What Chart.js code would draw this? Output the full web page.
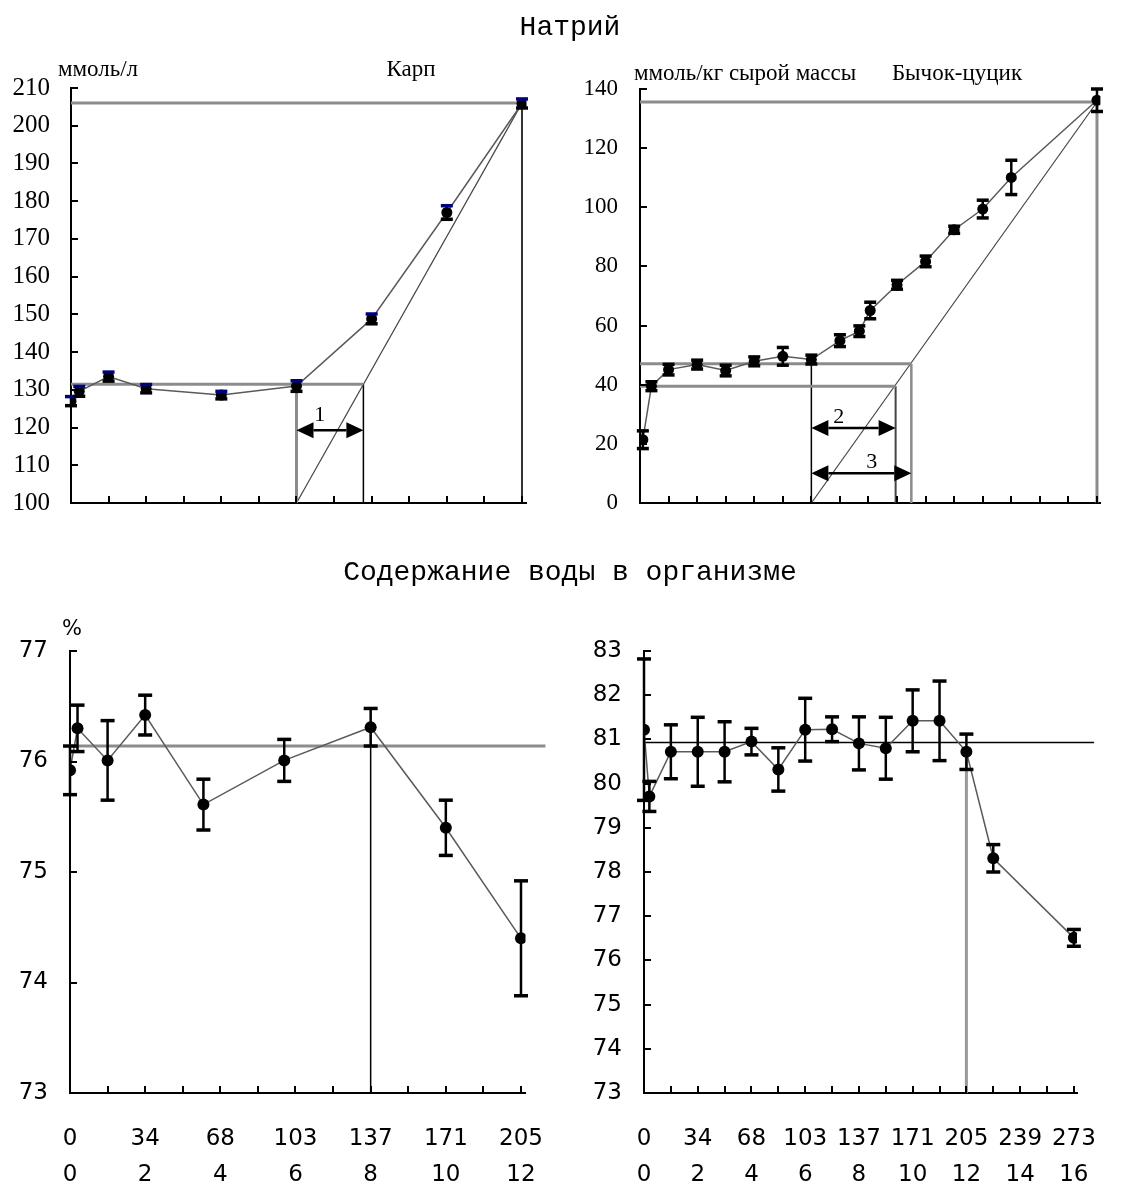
<!DOCTYPE html>
<html lang="ru">
<head>
<meta charset="utf-8">
<title>Натрий и содержание воды в организме</title>
<script src="https://cdn.jsdelivr.net/npm/chart.js@4.4.1/dist/chart.umd.min.js"></script>
<style>
  html, body { margin: 0; padding: 0; background: #fff; }
  #page { position: relative; width: 1124px; height: 1185px; overflow: hidden; }
  #page canvas { position: absolute; left: 0; top: 0; }
  .txt { position: absolute; white-space: nowrap; color: #000; transform: translate(-50%, -50%); line-height: 1; }
  .serif { font-family: "Liberation Serif", serif; }
  .mono { font-family: "Liberation Mono", monospace; }
  .sans { font-family: "DejaVu Sans", sans-serif; }
</style>
</head>
<body>
<div id="page">
  <canvas id="naCarp" width="1124" height="1185"></canvas>
  <canvas id="naGoby" width="1124" height="1185"></canvas>
  <canvas id="waterCarp" width="1124" height="1185"></canvas>
  <canvas id="waterGoby" width="1124" height="1185"></canvas>

  <div class="txt mono" style="left:570px;top:28px;font-size:28px">Натрий</div>
  <div class="txt mono" style="left:570px;top:573px;font-size:28px">Содержание воды в организме</div>
  <div class="txt serif" style="left:98px;top:68px;font-size:23px">ммоль/л</div>
  <div class="txt serif" style="left:411px;top:68px;font-size:23px">Карп</div>
  <div class="txt serif" style="left:745px;top:72px;font-size:23px">ммоль/кг сырой массы</div>
  <div class="txt serif" style="left:957px;top:72px;font-size:23px">Бычок-цуцик</div>
  <div class="txt sans" style="left:72px;top:628px;font-size:21px">%</div>
</div>

<script>
// x is measured in steps of the lower tick row; the upper row gives the same points in days
const dayLabels = ["0", "34", "68", "103", "137", "171", "205", "239", "273"];
const stepLabels = ["0", "2", "4", "6", "8", "10", "12", "14", "16"];

// Натрий, карп (ммоль/л)
const carpNaX = [0, 0.22, 1, 2, 4, 6, 8, 10, 12];
const carpNaY = [127.0, 129.6, 133.5, 130.3, 128.6, 131.0, 148.8, 177.0, 205.9];
const carpNaErr = [1.2, 1.3, 1.2, 1.1, 1.0, 1.4, 1.3, 1.8, 1.2];
const carpNaTop = 206;
const carpNaPlateau = 131.5;
const carpNaRiseX = 6;
const carpNaCrossX = 7.78;
const carpNaEndX = 12;

// Натрий, бычок-цуцик (ммоль/кг сырой массы)
const gobyNaX = [0.1, 0.4, 1, 2, 3, 4, 5, 6, 7, 7.68, 8.06, 9, 10, 11, 12, 13, 16];
const gobyNaY = [21.4, 39.5, 45.1, 46.8, 44.8, 47.9, 49.6, 48.5, 54.9, 58.1, 65.1, 73.8, 81.7, 92.4, 99.4, 110.1, 136.2];
const gobyNaErr = [3, 1.5, 1.8, 1.5, 1.8, 1.5, 3, 1.5, 2, 1.8, 2.8, 1.5, 1.8, 1.2, 3, 5.8, 3.8];
const gobyNaTop = 135.6;
const gobyNaLevel2 = 39.5;
const gobyNaLevel3 = 47.1;
const gobyNaRiseX = 6;
const gobyNaCross2X = 8.95;
const gobyNaCross3X = 9.5;
const gobyNaEndX = 16;

// Содержание воды, карп (%)
const carpWaterX = [0, 0.2, 1, 2, 3.55, 5.7, 8, 10, 12];
const carpWaterY = [75.92, 76.30, 76.01, 76.42, 75.61, 76.01, 76.31, 75.40, 74.40];
const carpWaterErr = [0.22, 0.21, 0.36, 0.18, 0.23, 0.19, 0.17, 0.25, 0.52];
const carpWaterMean = 76.14;
const carpWaterMarkX = 8;

// Содержание воды, бычок-цуцик (%)
const gobyWaterX = [0, 0.2, 1, 2, 3, 4, 5, 6, 7, 8, 9, 10, 11, 12, 13, 16];
const gobyWaterY = [81.22, 79.71, 80.72, 80.72, 80.72, 80.95, 80.32, 81.22, 81.23, 80.91, 80.80, 81.42, 81.42, 80.72, 78.31, 76.51];
const gobyWaterErr = [1.6, 0.34, 0.61, 0.78, 0.68, 0.3, 0.49, 0.71, 0.28, 0.6, 0.7, 0.7, 0.9, 0.4, 0.31, 0.19];
const gobyWaterMean = 80.93;
const gobyWaterMarkX = 12;

const GRAY = "#8c8c8c";

function seg(x0, y0, x1, y1, color, width) {
    return {
        data: [{ x: x0, y: y0 }, { x: x1, y: y1 }],
        showLine: true,
        pointRadius: 0,
        borderColor: color,
        borderWidth: width,
        clip: false
    };
}

function series(xs, ys, errs, radius, capHalf, topCapColor) {
    return {
        data: xs.map((x, i) => ({ x: x, y: ys[i] })),
        errors: errs,
        capHalf: capHalf,
        topCapColor: topCapColor,
        showLine: true,
        borderColor: "#5a5a5a",
        borderWidth: 1.5,
        pointRadius: radius,
        pointBackgroundColor: "#000",
        pointBorderColor: "#000",
        pointBorderWidth: 0
    };
}

const errorBars = {
    id: "errorBars",
    afterDatasetsDraw(chart) {
        const { ctx, scales: { x, y } } = chart;
        chart.data.datasets.forEach(ds => {
            if (!ds.errors) return;
            ctx.save();
            ds.data.forEach((p, i) => {
                const px = x.getPixelForValue(p.x);
                const top = y.getPixelForValue(p.y + ds.errors[i]);
                const bot = y.getPixelForValue(p.y - ds.errors[i]);
                ctx.strokeStyle = "#000";
                ctx.lineWidth = 2.5;
                ctx.beginPath(); ctx.moveTo(px, top); ctx.lineTo(px, bot); ctx.stroke();
                ctx.lineWidth = 3.5;
                ctx.beginPath(); ctx.moveTo(px - ds.capHalf, bot); ctx.lineTo(px + ds.capHalf, bot); ctx.stroke();
                ctx.strokeStyle = ds.topCapColor || "#000";
                ctx.beginPath(); ctx.moveTo(px - ds.capHalf, top); ctx.lineTo(px + ds.capHalf, top); ctx.stroke();
            });
            ctx.restore();
        });
    }
};

// tick marks in the reference point into the plot
const innerTicks = {
    id: "innerTicks",
    afterDraw(chart) {
        const { ctx, chartArea, scales: { x, y } } = chart;
        ctx.save();
        ctx.strokeStyle = "#000";
        ctx.lineWidth = 2;
        x.ticks.forEach(t => {
            const px = Math.round(x.getPixelForValue(t.value));
            ctx.beginPath(); ctx.moveTo(px, chartArea.bottom); ctx.lineTo(px, chartArea.bottom - 7); ctx.stroke();
        });
        y.ticks.forEach(t => {
            const py = Math.round(y.getPixelForValue(t.value));
            ctx.beginPath(); ctx.moveTo(chartArea.left, py); ctx.lineTo(chartArea.left + 7, py); ctx.stroke();
        });
        ctx.restore();
    }
};

function arrows(items) {
    return {
        id: "arrows",
        afterDatasetsDraw(chart) {
            const { ctx, scales: { x, y } } = chart;
            const head = 17, half = 8;
            ctx.save();
            ctx.strokeStyle = "#000";
            ctx.fillStyle = "#000";
            ctx.lineWidth = 2.5;
            items.forEach(a => {
                const x0 = x.getPixelForValue(a.x0);
                const x1 = x.getPixelForValue(a.x1);
                const py = y.getPixelForValue(a.y);
                ctx.beginPath(); ctx.moveTo(x0 + head, py); ctx.lineTo(x1 - head, py); ctx.stroke();
                ctx.beginPath(); ctx.moveTo(x0, py); ctx.lineTo(x0 + head, py - half); ctx.lineTo(x0 + head, py + half); ctx.closePath(); ctx.fill();
                ctx.beginPath(); ctx.moveTo(x1, py); ctx.lineTo(x1 - head, py - half); ctx.lineTo(x1 - head, py + half); ctx.closePath(); ctx.fill();
                ctx.font = '22px "Liberation Serif"';
                ctx.textAlign = "center";
                ctx.textBaseline = "middle";
                ctx.fillText(a.label, x.getPixelForValue(a.lx), y.getPixelForValue(a.ly));
            });
            ctx.restore();
        }
    };
}

function makePanel(id, cfg) {
    const yAxisW = 60;
    const xAxisH = cfg.xLabels ? 92 : 10;
    return new Chart(document.getElementById(id), {
        type: "scatter",
        data: { datasets: cfg.datasets },
        options: {
            responsive: false,
            animation: false,
            events: [],
            layout: {
                padding: {
                    left: cfg.box.left - yAxisW,
                    top: cfg.box.top,
                    right: 1124 - cfg.box.right,
                    bottom: 1185 - cfg.box.bottom - xAxisH
                }
            },
            plugins: { legend: { display: false }, tooltip: { enabled: false } },
            scales: {
                x: {
                    type: "linear",
                    min: 0,
                    max: cfg.xMax,
                    afterFit: s => { s.height = xAxisH; },
                    grid: { display: false, drawTicks: false },
                    border: { display: true, color: "#000", width: 2 },
                    ticks: {
                        display: !!cfg.xLabels,
                        stepSize: 1,
                        includeBounds: false,
                        autoSkip: false,
                        maxRotation: 0,
                        padding: 28,
                        color: "#000",
                        font: { family: '"DejaVu Sans"', size: 23, lineHeight: "36px" },
                        callback: v => (v % 2 === 0 ? [dayLabels[v / 2], stepLabels[v / 2]] : "")
                    }
                },
                y: {
                    min: cfg.yMin,
                    max: cfg.yMax,
                    afterFit: s => { s.width = yAxisW; },
                    grid: { display: false, drawTicks: false },
                    border: { display: true, color: "#000", width: 2 },
                    ticks: {
                        stepSize: cfg.yStep,
                        padding: cfg.yPad,
                        color: "#000",
                        font: cfg.yFont
                    }
                }
            }
        },
        plugins: [errorBars, innerTicks, arrows(cfg.arrows || [])]
    });
}

makePanel("naCarp", {
    box: { left: 71, top: 88, right: 526.5, bottom: 503 },
    xMax: 12.12, yMin: 100, yMax: 210, yStep: 10, yPad: 21,
    yFont: { family: '"Liberation Serif"', size: 25 },
    datasets: [
        series(carpNaX, carpNaY, carpNaErr, 5.5, 6, "#000080"),
        seg(0, carpNaTop, carpNaEndX, carpNaTop, GRAY, 3),
        seg(0, carpNaPlateau, carpNaCrossX, carpNaPlateau, GRAY, 3),
        seg(carpNaRiseX, 100, carpNaRiseX, carpNaPlateau, GRAY, 3),
        seg(carpNaCrossX, 100, carpNaCrossX, carpNaPlateau, "#000", 1.5),
        seg(carpNaRiseX, 100, carpNaEndX, carpNaTop, "#444", 1.2),
        seg(carpNaEndX, 100, carpNaEndX, carpNaTop, "#333", 2)
    ],
    arrows: [{ x0: carpNaRiseX, x1: carpNaCrossX, y: 119.3, label: "1", lx: 6.62, ly: 123.3 }]
});

makePanel("naGoby", {
    box: { left: 640, top: 89, right: 1100.4, bottom: 503 },
    xMax: 16.12, yMin: 0, yMax: 140, yStep: 20, yPad: 22,
    yFont: { family: '"Liberation Serif"', size: 23 },
    datasets: [
        series(gobyNaX, gobyNaY, gobyNaErr, 5.5, 6),
        seg(0, gobyNaTop, gobyNaEndX, gobyNaTop, GRAY, 3),
        seg(0, gobyNaLevel3, gobyNaCross3X, gobyNaLevel3, GRAY, 3),
        seg(0, gobyNaLevel2, gobyNaCross2X, gobyNaLevel2, GRAY, 3),
        seg(gobyNaRiseX, 0, gobyNaRiseX, gobyNaY[7], "#000", 1.5),
        seg(gobyNaCross2X, 0, gobyNaCross2X, gobyNaLevel2, "#444", 2),
        seg(gobyNaCross3X, 0, gobyNaCross3X, gobyNaLevel3, GRAY, 2.5),
        seg(gobyNaEndX, 0, gobyNaEndX, gobyNaTop, GRAY, 3),
        seg(gobyNaRiseX, 0, gobyNaEndX, gobyNaTop, "#444", 1.2)
    ],
    arrows: [
        { x0: gobyNaRiseX, x1: gobyNaCross2X, y: 25.4, label: "2", lx: 6.96, ly: 29.1 },
        { x0: gobyNaRiseX, x1: gobyNaCross3X, y: 10.1, label: "3", lx: 8.11, ly: 13.9 }
    ]
});

makePanel("waterCarp", {
    box: { left: 70, top: 651, right: 525.5, bottom: 1093 },
    xMax: 12.12, yMin: 73, yMax: 77, yStep: 1, yPad: 22, xLabels: true,
    yFont: { family: '"DejaVu Sans"', size: 23 },
    datasets: [
        series(carpWaterX, carpWaterY, carpWaterErr, 6, 7),
        seg(0, carpWaterMean, 12.65, carpWaterMean, GRAY, 3),
        seg(carpWaterMarkX, 73, carpWaterMarkX, carpWaterY[6], "#000", 1.5)
    ]
});

makePanel("waterGoby", {
    box: { left: 644, top: 651, right: 1099.4, bottom: 1093 },
    xMax: 16.12, yMin: 73, yMax: 83, yStep: 1, yPad: 22, xLabels: true,
    yFont: { family: '"DejaVu Sans"', size: 23 },
    datasets: [
        series(gobyWaterX, gobyWaterY, gobyWaterErr, 6, 7),
        seg(0, gobyWaterMean, 16.75, gobyWaterMean, "#000", 1.5),
        seg(gobyWaterMarkX, 73, gobyWaterMarkX, gobyWaterY[13], "#999", 3)
    ]
});
</script>
</body>
</html>
